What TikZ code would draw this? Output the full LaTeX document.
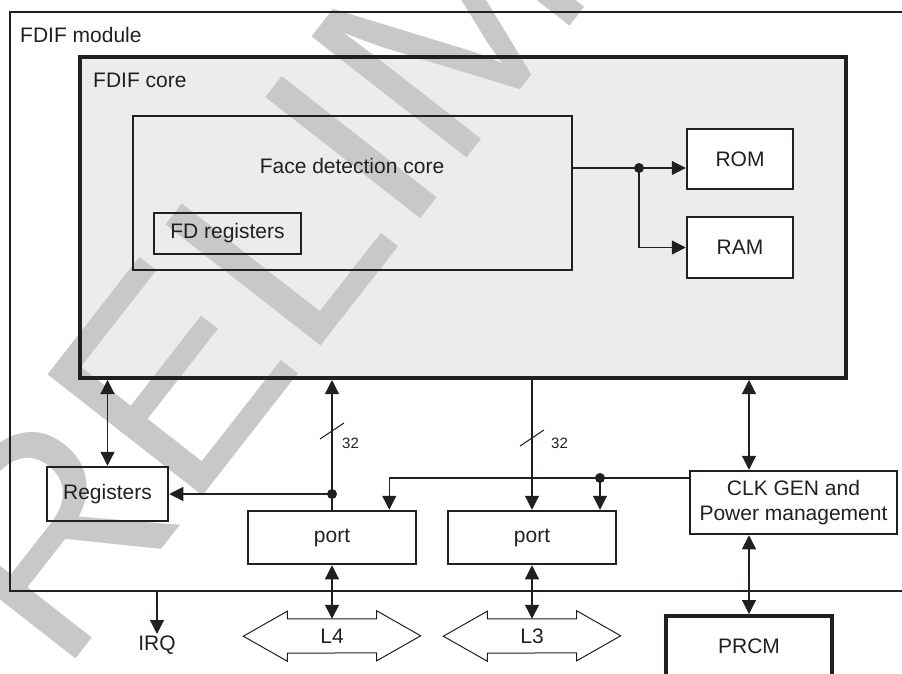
\documentclass[tikz,border=0pt]{standalone}
\usepackage{fontspec}
\setmainfont{Liberation Sans}
\usetikzlibrary{arrows.meta}
\definecolor{ink}{HTML}{231F20}
\definecolor{corefill}{HTML}{ECECEC}
\definecolor{wmark}{HTML}{C8C8C8}
\pgfdeclarelayer{fills}
\pgfdeclarelayer{mark}
\pgfsetlayers{fills,mark,main}
\tikzset{
  txt/.style={font=\fontsize{21}{25}\selectfont,text=ink},
  blk/.style={txt,draw=ink,line width=2.5pt,inner sep=0pt,align=center},
  heavy/.style={blk,line width=4pt},
  wire/.style={draw=ink,line width=1.2pt},
  arr/.style={wire,-{Triangle[length=14pt,width=14pt]}},
  biarr/.style={wire,{Triangle[length=14pt,width=14pt]}-{Triangle[length=14pt,width=14pt]}},
  junction/.style={circle,fill=ink,inner sep=0pt,minimum size=10pt},
  bus/.style={draw=ink,line width=1pt},
  buswidth/.style={font=\fontsize{15}{18}\selectfont,text=ink,inner sep=0pt}
}

\begin{document}
\begin{tikzpicture}[x=1pt,y=1pt]
  \useasboundingbox (0,0) rectangle (902,-673);
  \clip (0,0) rectangle (902,-673);

  % module and core
  \node[blk,line width=2pt,minimum width=902,minimum height=579] (module) at (461,-301.5) {};
  \node[txt,anchor=west,inner sep=0pt] (modlabel) at (20,-35) {FDIF module};
  \node[heavy,minimum width=766,minimum height=321] (core) at (463,-217.5) {};
  \node[txt,anchor=west,inner sep=0pt] (corelabel) at (93,-80) {FDIF core};
  \node[blk,minimum width=439,minimum height=154] (fdc) at (352.5,-193) {};
  \node[txt] (fdclabel) at (352,-166) {Face detection core};
  \node[blk,minimum width=147,minimum height=41] (fdreg) at (227.5,-233.5) {FD registers};
  \node[blk,fill=white,minimum width=106,minimum height=60] (rom) at (740,-159) {ROM};
  \node[blk,fill=white,minimum width=106,minimum height=61] (ram) at (740,-247.5) {RAM};

  % lower blocks
  \node[blk,minimum width=121,minimum height=54] (regs) at (107.5,-494) {Registers};
  \node[blk,minimum width=168,minimum height=53] (port4) at (332,-537.5) {port};
  \node[blk,minimum width=168,minimum height=53] (port3) at (532,-537.5) {port};
  \node[blk,minimum width=207,minimum height=63] (clk) at (793.5,-502.5) {CLK GEN and\\Power management};
  \node[heavy,minimum width=166,minimum height=60] (prcm) at (749,-646) {PRCM};

  % outside buses
  \node[txt,inner sep=0pt,minimum width=89,minimum height=34] (l4) at (332,-636) {L4};
  \node[txt,inner sep=0pt,minimum width=89,minimum height=34] (l3) at (532,-636) {L3};
  \foreach \b in {l4,l3}
    \draw[bus] (\b.north west) -- (\b.north east) -- ++(0,8) -- ++(44,-25) -- ++(-44,-25)
      -- ++(0,8) -- (\b.south west) -- ++(0,-8) -- ++(-44,25) -- ++(44,25) -- cycle;
  \node[txt,anchor=north,inner sep=2pt] (irq) at (157,-634) {IRQ};

  % ROM / RAM
  \coordinate (split) at (639,-168);
  \draw[wire] (split -| fdc.east) -- (split);
  \draw[arr] (split) -- (split -| rom.west);
  \draw[arr] (split) |- (ram.west);
  \node[junction] (splitdot) at (split) {};

  % registers and ports
  \draw[biarr] (regs.north) -- (regs.north |- core.south);
  \draw[arr] (port4.north) -- (port4.north |- core.south);
  \coordinate (tap4) at (port4.north |- regs.east);
  \draw[arr] (tap4) -- (regs.east);
  \node[junction] (tapdot) at (tap4) {};
  \draw[arr] (core.south -| port3.north) -- (port3.north);
  \draw[wire,line width=1pt] (320,-439) -- (344,-423);
  \node[buswidth,anchor=west] (w4) at (342,-443) {32};
  \draw[wire,line width=1pt] (520,-446) -- (544,-430);
  \node[buswidth,anchor=west] (w3) at (551,-443) {32};

  % clock and power
  \coordinate (feed) at (600,-478);
  \draw[arr] (clk.west |- feed) -| ([xshift=-28pt]port4.north east);
  \draw[arr] (feed) -- (feed |- port3.north);
  \node[junction] (feeddot) at (feed) {};
  \draw[biarr] (core.south -| prcm.north) -- (clk.north -| prcm.north);
  \draw[biarr] (clk.south -| prcm.north) -- (prcm.north);

  % external
  \draw[biarr] (port4.south) -- (l4.north);
  \draw[biarr] (port3.south) -- (l3.north);
  \draw[arr] (irq.north |- module.south) -- (irq.north);

  \begin{pgfonlayer}{fills}
    \fill[corefill] (core.south west) rectangle (core.north east);
  \end{pgfonlayer}
  \begin{pgfonlayer}{mark}
    \begin{scope}
      \clip (0,0) rectangle (902,-673);
      \node[rotate=52,anchor=base west,inner sep=0pt,text=wmark,
        font=\fontsize{286}{300}\selectfont] (stamp) at (-56,-828) {PRELIMINARY};
    \end{scope}
  \end{pgfonlayer}
\end{tikzpicture}
\end{document}
